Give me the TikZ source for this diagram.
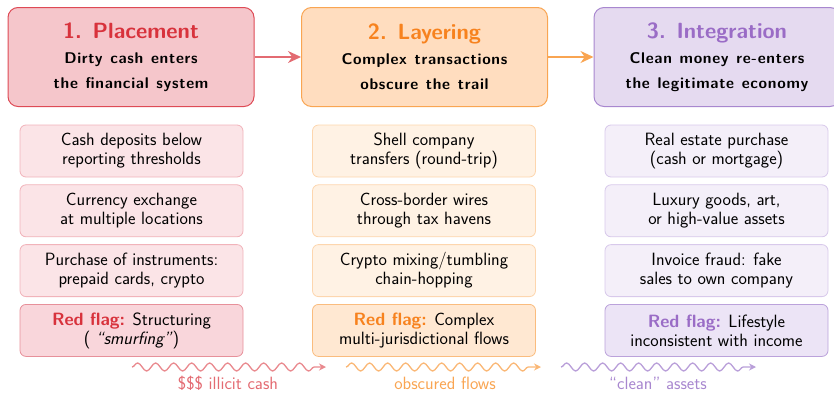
\documentclass[tikz,border=0pt]{standalone}
\usepackage{fontspec}
\usetikzlibrary{arrows.meta,decorations.pathmorphing,positioning}

% spaced-out bold for the stage subtitles
\newfontfamily\subheadfont{lmsans10-bold.otf}[LetterSpace=4.5,WordSpace=1.2]

% stage colours
\definecolor{plcDark}{HTML}{D8323C}
\definecolor{plcEdge}{HTML}{DE4A55}
\definecolor{plcLine}{HTML}{E36B72}
\definecolor{plcHead}{HTML}{F5C6CB}
\definecolor{plcItem}{HTML}{FBE4E7}
\definecolor{plcItemLine}{HTML}{F1B3BA}
\definecolor{plcFlag}{HTML}{F9D6DB}
\definecolor{plcFlagLine}{HTML}{E7909A}
\definecolor{lyrDark}{HTML}{F7821E}
\definecolor{lyrEdge}{HTML}{F9A552}
\definecolor{lyrLine}{HTML}{F9A552}
\definecolor{lyrHead}{HTML}{FFDDBF}
\definecolor{lyrItem}{HTML}{FFF2E4}
\definecolor{lyrItemLine}{HTML}{FDD6AE}
\definecolor{lyrFlag}{HTML}{FFE8D2}
\definecolor{lyrFlagLine}{HTML}{FABC7E}
\definecolor{intDark}{HTML}{9A6CC6}
\definecolor{intEdge}{HTML}{A887CF}
\definecolor{intLine}{HTML}{A887CF}
\definecolor{intHead}{HTML}{E5DAF0}
\definecolor{intItem}{HTML}{F4EFF9}
\definecolor{intItemLine}{HTML}{D8C9EB}
\definecolor{intFlag}{HTML}{ECE4F6}
\definecolor{intFlagLine}{HTML}{BBA2DB}

\tikzset{
  stagebox/.style={draw=#1Edge,fill=#1Head,line width=1pt,rounded corners=10pt,
    minimum width=246pt,minimum height=99pt,align=center,inner sep=0pt,
    font=\subheadfont\fontsize{15.5}{25}\selectfont},
  itembox/.style={draw=#1ItemLine,fill=#1Item,line width=.8pt,rounded corners=6pt,
    minimum width=223pt,minimum height=52pt,align=center,inner sep=0pt,
    font=\sffamily\fontsize{17.8}{19}\selectfont},
  flagbox/.style={itembox=#1,draw=#1FlagLine,fill=#1Flag},
  flowarrow/.style={#1Line,line width=1.8pt,-{Stealth[length=13pt,width=12pt]}},
  wavy/.style={draw=#1,line width=1.3pt,-{Stealth[length=7pt,width=7pt]},
    decorate,decoration={snake,amplitude=4pt,segment length=18pt,post length=6pt}},
  wavylabel/.style={text=#1,anchor=base,inner sep=0pt,
    font=\sffamily\fontsize{17.8}{20}\selectfont}
}

\newcommand{\stagetitle}[2]{{\sffamily\bfseries\fontsize{22}{25}\selectfont\color{#1}#2}}
\newcommand{\flagword}[1]{\textbf{\color{#1}Red flag:}}

\begin{document}
\begin{tikzpicture}[x=1pt,y=-1pt]
  \useasboundingbox (0,0) rectangle (834,394);

  % the three stages
  \node[stagebox=plc] (place) at (131,57)
    {\stagetitle{plcDark}{1. Placement}\\Dirty cash enters\\the financial system};
  \node[stagebox=lyr] (layer) at (424.5,57)
    {\stagetitle{lyrDark}{2. Layering}\\Complex transactions\\obscure the trail};
  \node[stagebox=int] (integ) at (717,57)
    {\stagetitle{intDark}{3. Integration}\\Clean money re-enters\\the legitimate economy};

  \draw[flowarrow=plc] (place) -- (layer);
  \draw[flowarrow=lyr] (layer) -- (integ);

  % placement methods
  \node[itembox=plc] (plcA) at (131.5,151) {Cash deposits below\\reporting thresholds};
  \node[itembox=plc,below=7pt of plcA] (plcB) {Currency exchange\\at multiple locations};
  \node[itembox=plc,below=7pt of plcB] (plcC) {Purchase of instruments:\\prepaid cards, crypto};
  \node[flagbox=plc,below=7pt of plcC] (plcD)
    {\flagword{plcDark} Structuring\\(~\textit{``smurfing''})};

  % layering methods
  \node[itembox=lyr] (lyrA) at (424,151) {Shell company\\transfers (round-trip)};
  \node[itembox=lyr,below=7pt of lyrA] (lyrB) {Cross-border wires\\through tax havens};
  \node[itembox=lyr,below=7pt of lyrB] (lyrC) {Crypto mixing/tumbling\\chain-hopping};
  \node[flagbox=lyr,below=7pt of lyrC] (lyrD)
    {\flagword{lyrDark} Complex\\multi-jurisdictional flows};

  % integration methods
  \node[itembox=int] (intA) at (716.5,151) {Real estate purchase\\(cash or mortgage)};
  \node[itembox=int,below=7pt of intA] (intB) {Luxury goods, art,\\or high-value assets};
  \node[itembox=int,below=7pt of intB] (intC) {Invoice fraud: fake\\sales to own company};
  \node[flagbox=int,below=7pt of intC] (intD)
    {\flagword{intDark} Lifestyle\\inconsistent with income};

  % money flow along the bottom
  \coordinate (plcS) at (132,367);  \coordinate (plcE) at (326,367);
  \coordinate (lyrS) at (346,367);  \coordinate (lyrE) at (541,367);
  \coordinate (intS) at (561,367);  \coordinate (intE) at (756,367);
  \draw[wavy=plcLine!80] (plcS) -- (plcE);
  \draw[wavy=lyrLine!80] (lyrS) -- (lyrE);
  \draw[wavy=intLine!80] (intS) -- (intE);
  \node[wavylabel=plcLine] (plcL) at (228,389) {\$\$\$ illicit cash};
  \node[wavylabel=lyrLine] (lyrL) at (445,389) {obscured flows};
  \node[wavylabel=intLine] (intL) at (658,389) {``clean'' assets};
\end{tikzpicture}
\end{document}
